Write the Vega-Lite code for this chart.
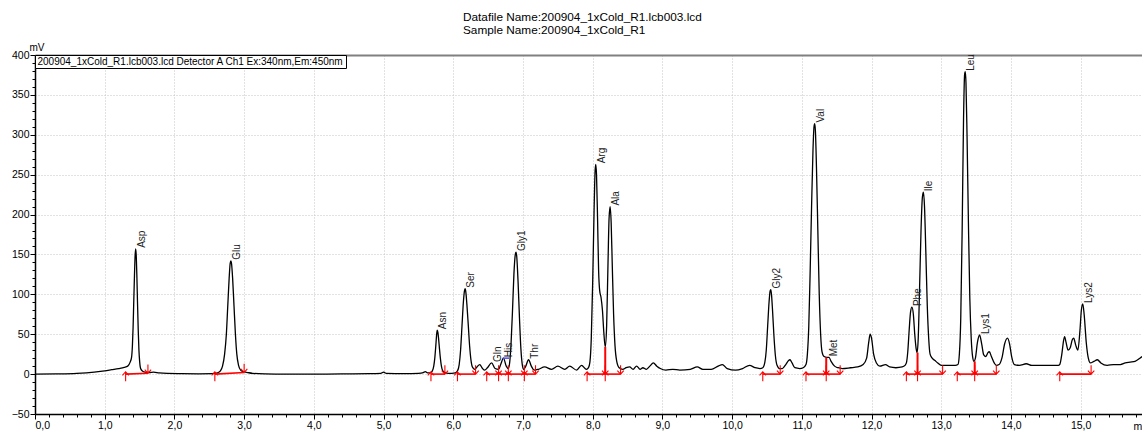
{
"$schema": "https://vega.github.io/schema/vega-lite/v6.json",
"width": 1107, "height": 359,
"autosize": {"type": "none"},
"padding": {"left": 35, "top": 55, "right": 0, "bottom": 17},
"background": "white",
"config": {"font": "Liberation Sans", "view": {"stroke": null},
  "axis": {"labelFont": "Liberation Sans", "titleFont": "Liberation Sans", "labelColor": "black", "titleColor": "black"},
  "legend": {"labelFont": "Liberation Sans"}},
"title": {"text": ["Datafile Name:200904_1xCold_R1.lcb003.lcd", "Sample Name:200904_1xCold_R1"], "anchor": "start", "frame": "group", "dx": 428, "offset": 5, "fontSize": 11.8, "fontWeight": "normal", "lineHeight": 13, "font": "Liberation Sans", "color": "black"},
"datasets": {
"trace": [
{"t":0,"mv":0},{"t":0.3,"mv":0.3},{"t":0.6,"mv":1},{"t":0.85,"mv":2.5},{"t":1.0,"mv":4},{"t":1.1,"mv":5.5},{"t":1.2,"mv":7},{"t":1.28,"mv":8.5},{"t":1.33,"mv":10},{"t":1.365,"mv":15},{"t":1.385,"mv":21},{"t":1.397,"mv":35},{"t":1.407,"mv":58},{"t":1.417,"mv":92},{"t":1.427,"mv":124},{"t":1.436,"mv":148},{"t":1.444,"mv":157},{"t":1.452,"mv":149},{"t":1.461,"mv":124},{"t":1.471,"mv":88},{"t":1.481,"mv":55},{"t":1.491,"mv":30},{"t":1.502,"mv":15},{"t":1.515,"mv":7},{"t":1.54,"mv":4},{"t":1.58,"mv":2.5},{"t":1.64,"mv":2},{"t":1.7,"mv":2.5},{"t":1.78,"mv":1.5},{"t":1.9,"mv":0.8},{"t":2.1,"mv":0.5},{"t":2.35,"mv":0.3},{"t":2.55,"mv":0.5},
{"t":2.62,"mv":1.5},{"t":2.66,"mv":4},{"t":2.69,"mv":10},{"t":2.72,"mv":25},{"t":2.745,"mv":50},{"t":2.765,"mv":85},{"t":2.785,"mv":120},{"t":2.8,"mv":139},{"t":2.81,"mv":142},{"t":2.82,"mv":138},{"t":2.835,"mv":120},{"t":2.855,"mv":85},{"t":2.875,"mv":50},{"t":2.895,"mv":25},{"t":2.92,"mv":11},{"t":2.95,"mv":5},{"t":2.99,"mv":3},{"t":3.05,"mv":2},{"t":3.12,"mv":1},{"t":3.3,"mv":0.3},{"t":3.6,"mv":0},{"t":4.0,"mv":0},{"t":4.4,"mv":0.3},{"t":4.8,"mv":0.5},{"t":4.96,"mv":1},{"t":5.0,"mv":2.5},{"t":5.04,"mv":0.8},{"t":5.3,"mv":0.5},{"t":5.5,"mv":1},{"t":5.57,"mv":2},{"t":5.6,"mv":3},{"t":5.63,"mv":1.5},{"t":5.67,"mv":1.5},
{"t":5.7,"mv":4},{"t":5.72,"mv":10},{"t":5.735,"mv":20},{"t":5.75,"mv":36},{"t":5.76,"mv":48},{"t":5.77,"mv":55},{"t":5.78,"mv":52},{"t":5.79,"mv":44},{"t":5.8,"mv":34},{"t":5.815,"mv":20},{"t":5.83,"mv":10},{"t":5.85,"mv":4},{"t":5.88,"mv":2},{"t":5.93,"mv":1},{"t":5.98,"mv":1},
{"t":6.03,"mv":1.5},{"t":6.06,"mv":4},{"t":6.085,"mv":12},{"t":6.105,"mv":30},{"t":6.125,"mv":60},{"t":6.145,"mv":90},{"t":6.16,"mv":104},{"t":6.17,"mv":107},{"t":6.18,"mv":103},{"t":6.195,"mv":88},{"t":6.215,"mv":62},{"t":6.235,"mv":35},{"t":6.255,"mv":17},{"t":6.28,"mv":8},{"t":6.31,"mv":6},{"t":6.34,"mv":9},{"t":6.38,"mv":12},{"t":6.42,"mv":7},{"t":6.45,"mv":5},{"t":6.49,"mv":8},{"t":6.55,"mv":14},{"t":6.6,"mv":7},{"t":6.65,"mv":6},{"t":6.68,"mv":12},{"t":6.72,"mv":20},{"t":6.76,"mv":10},{"t":6.79,"mv":7},
{"t":6.81,"mv":15},{"t":6.83,"mv":40},{"t":6.85,"mv":80},{"t":6.87,"mv":125},{"t":6.89,"mv":150},{"t":6.9,"mv":153},{"t":6.91,"mv":148},{"t":6.93,"mv":115},{"t":6.95,"mv":70},{"t":6.97,"mv":32},{"t":6.99,"mv":12},{"t":7.01,"mv":6},{"t":7.04,"mv":10},{"t":7.08,"mv":18},{"t":7.12,"mv":10},{"t":7.16,"mv":5},{"t":7.22,"mv":6},{"t":7.31,"mv":9},{"t":7.41,"mv":6},{"t":7.5,"mv":10},{"t":7.6,"mv":6},{"t":7.67,"mv":10},{"t":7.77,"mv":5},{"t":7.84,"mv":11},{"t":7.91,"mv":6},
{"t":7.94,"mv":8},{"t":7.96,"mv":15},{"t":7.98,"mv":45},{"t":8.0,"mv":115},{"t":8.02,"mv":205},{"t":8.035,"mv":255},{"t":8.045,"mv":263},{"t":8.055,"mv":250},{"t":8.07,"mv":195},{"t":8.085,"mv":130},{"t":8.1,"mv":105},{"t":8.12,"mv":96},{"t":8.14,"mv":80},{"t":8.16,"mv":52},{"t":8.18,"mv":34},{"t":8.2,"mv":60},{"t":8.22,"mv":140},{"t":8.235,"mv":195},{"t":8.25,"mv":210},{"t":8.265,"mv":190},{"t":8.28,"mv":140},{"t":8.3,"mv":75},{"t":8.32,"mv":36},{"t":8.345,"mv":16},{"t":8.38,"mv":8},{"t":8.43,"mv":6},{"t":8.48,"mv":8},{"t":8.53,"mv":9},{"t":8.58,"mv":6},{"t":8.63,"mv":10},{"t":8.68,"mv":6},{"t":8.72,"mv":8},{"t":8.77,"mv":6},{"t":8.82,"mv":10},{"t":8.87,"mv":14},{"t":8.92,"mv":10},{"t":8.97,"mv":7},{"t":9.05,"mv":5},{"t":9.15,"mv":6},{"t":9.25,"mv":5},{"t":9.4,"mv":6},{"t":9.5,"mv":9},{"t":9.58,"mv":6},{"t":9.7,"mv":6},{"t":9.8,"mv":10},{"t":9.86,"mv":12},{"t":9.93,"mv":7},{"t":10.05,"mv":5},{"t":10.15,"mv":7},{"t":10.25,"mv":11},{"t":10.33,"mv":8},{"t":10.4,"mv":7},
{"t":10.44,"mv":8},{"t":10.47,"mv":15},{"t":10.49,"mv":30},{"t":10.51,"mv":60},{"t":10.53,"mv":90},{"t":10.545,"mv":104},{"t":10.555,"mv":106},{"t":10.565,"mv":100},{"t":10.58,"mv":80},{"t":10.6,"mv":48},{"t":10.62,"mv":24},{"t":10.645,"mv":11},{"t":10.68,"mv":7},{"t":10.72,"mv":7},{"t":10.77,"mv":12},{"t":10.81,"mv":17},{"t":10.83,"mv":18},{"t":10.86,"mv":14},{"t":10.9,"mv":8},{"t":10.97,"mv":7},{"t":11.02,"mv":8},
{"t":11.06,"mv":12},{"t":11.08,"mv":25},{"t":11.1,"mv":60},{"t":11.12,"mv":130},{"t":11.14,"mv":210},{"t":11.16,"mv":280},{"t":11.175,"mv":310},{"t":11.185,"mv":314},{"t":11.195,"mv":305},{"t":11.21,"mv":260},{"t":11.23,"mv":180},{"t":11.25,"mv":100},{"t":11.27,"mv":50},{"t":11.29,"mv":28},{"t":11.32,"mv":22},{"t":11.36,"mv":21},{"t":11.39,"mv":21},{"t":11.42,"mv":16},{"t":11.47,"mv":10},{"t":11.52,"mv":8},{"t":11.58,"mv":7},{"t":11.7,"mv":8},{"t":11.8,"mv":9},{"t":11.88,"mv":12},{"t":11.93,"mv":20},{"t":11.96,"mv":40},{"t":11.98,"mv":50},{"t":12.0,"mv":45},{"t":12.03,"mv":25},{"t":12.07,"mv":14},{"t":12.12,"mv":10},{"t":12.2,"mv":12},{"t":12.26,"mv":9},{"t":12.35,"mv":8},{"t":12.44,"mv":9},
{"t":12.48,"mv":11},{"t":12.5,"mv":14},{"t":12.52,"mv":28},{"t":12.54,"mv":55},{"t":12.56,"mv":78},{"t":12.58,"mv":84},{"t":12.6,"mv":75},{"t":12.62,"mv":50},{"t":12.64,"mv":32},{"t":12.655,"mv":27},{"t":12.67,"mv":45},{"t":12.69,"mv":110},{"t":12.71,"mv":180},{"t":12.73,"mv":222},{"t":12.745,"mv":228},{"t":12.76,"mv":210},{"t":12.78,"mv":150},{"t":12.8,"mv":85},{"t":12.82,"mv":45},{"t":12.84,"mv":25},{"t":12.87,"mv":20},{"t":12.91,"mv":17},{"t":12.95,"mv":14},{"t":13.0,"mv":11},{"t":13.1,"mv":11},{"t":13.2,"mv":11},
{"t":13.24,"mv":12},{"t":13.26,"mv":25},{"t":13.28,"mv":70},{"t":13.3,"mv":180},{"t":13.32,"mv":320},{"t":13.335,"mv":375},{"t":13.345,"mv":379},{"t":13.355,"mv":365},{"t":13.37,"mv":300},{"t":13.39,"mv":190},{"t":13.41,"mv":95},{"t":13.43,"mv":45},{"t":13.45,"mv":22},{"t":13.47,"mv":16},{"t":13.49,"mv":20},{"t":13.52,"mv":40},{"t":13.55,"mv":49},{"t":13.58,"mv":38},{"t":13.61,"mv":24},{"t":13.64,"mv":22},{"t":13.67,"mv":27},{"t":13.69,"mv":28},{"t":13.72,"mv":22},{"t":13.76,"mv":14},{"t":13.79,"mv":11},{"t":13.83,"mv":12},{"t":13.87,"mv":20},{"t":13.91,"mv":38},{"t":13.95,"mv":45},{"t":13.98,"mv":38},{"t":14.01,"mv":22},{"t":14.05,"mv":12},{"t":14.12,"mv":11},{"t":14.22,"mv":13},{"t":14.3,"mv":11},{"t":14.4,"mv":11},{"t":14.5,"mv":11},{"t":14.6,"mv":11},{"t":14.68,"mv":11},
{"t":14.7,"mv":12},{"t":14.73,"mv":25},{"t":14.755,"mv":42},{"t":14.77,"mv":47},{"t":14.79,"mv":40},{"t":14.82,"mv":30},{"t":14.85,"mv":33},{"t":14.88,"mv":43},{"t":14.9,"mv":45},{"t":14.93,"mv":36},{"t":14.96,"mv":30},{"t":14.99,"mv":55},{"t":15.01,"mv":80},{"t":15.03,"mv":88},{"t":15.05,"mv":75},{"t":15.08,"mv":40},{"t":15.11,"mv":20},{"t":15.14,"mv":14},{"t":15.19,"mv":16},{"t":15.24,"mv":18},{"t":15.29,"mv":14},{"t":15.38,"mv":11},{"t":15.47,"mv":12},{"t":15.57,"mv":12},{"t":15.64,"mv":14},{"t":15.71,"mv":15},{"t":15.78,"mv":16},{"t":15.85,"mv":20},{"t":15.88,"mv":22}
],
"segments": [
{"t1":1.30,"t2":1.62,"y1":0,"y2":1},{"t1":2.58,"t2":3.00,"y1":0,"y2":2},{"t1":5.68,"t2":5.88,"y1":0,"y2":0},{"t1":6.06,"t2":6.32,"y1":0,"y2":0},
{"t1":6.48,"t2":6.65,"y1":0,"y2":0},{"t1":6.65,"t2":6.79,"y1":0,"y2":0},{"t1":6.79,"t2":7.02,"y1":0,"y2":0},{"t1":7.02,"t2":7.18,"y1":0,"y2":0},
{"t1":7.92,"t2":8.18,"y1":0,"y2":0},{"t1":8.18,"t2":8.40,"y1":0,"y2":0},{"t1":10.44,"t2":10.69,"y1":0,"y2":0},
{"t1":11.06,"t2":11.35,"y1":0,"y2":0},{"t1":11.35,"t2":11.55,"y1":0,"y2":0},{"t1":12.50,"t2":12.66,"y1":0,"y2":0},{"t1":12.66,"t2":13.02,"y1":0,"y2":0},
{"t1":13.23,"t2":13.48,"y1":0,"y2":0},{"t1":13.48,"t2":13.79,"y1":0,"y2":0},{"t1":14.70,"t2":15.15,"y1":0,"y2":0}
],
"drops": [{"t":8.18,"base":0,"top":34},{"t":11.35,"base":0,"top":21},{"t":12.66,"base":0,"top":27},{"t":13.48,"base":0,"top":16}],
"peaks": [
{"name":"Asp","t":1.444,"mv":157},{"name":"Glu","t":2.81,"mv":142},{"name":"Asn","t":5.77,"mv":55},{"name":"Ser","t":6.17,"mv":107},
{"name":"Gln","t":6.55,"mv":14},{"name":"His","t":6.72,"mv":20},{"name":"Gly1","t":6.9,"mv":153},{"name":"Thr","t":7.08,"mv":18},
{"name":"Arg","t":8.045,"mv":263},{"name":"Ala","t":8.25,"mv":210},{"name":"Gly2","t":10.555,"mv":106},{"name":"Val","t":11.185,"mv":314},
{"name":"Met","t":11.38,"mv":21},{"name":"Phe","t":12.58,"mv":84},{"name":"Ile","t":12.745,"mv":228},{"name":"Leu","t":13.345,"mv":379},
{"name":"Lys1","t":13.55,"mv":49},{"name":"Lys2","t":15.03,"mv":88}
],
"blue": [{"t1":6.71,"t2":6.80,"mv":20}]
},
"layer": [
{"data": {"name": "trace"},
 "mark": {"type": "line", "interpolate": "monotone", "strokeWidth": 1.3},
 "encoding": {
  "x": {"field": "t", "type": "quantitative", "scale": {"domain": [0, 15.88], "nice": false, "zero": false},
    "axis": {"orient": "bottom", "values": [0,1,2,3,4,5,6,7,8,9,10,11,12,13,14,15], "labelExpr": "replace(format(datum.value, '.1f'), '.', ',')",
      "grid": true, "gridColor": "#c4c4c4", "gridDash": [1,2], "tickSize": 5, "tickColor": "black", "domainColor": "black", "domainWidth": 1.5,
      "labelFontSize": 10.5, "labelPadding": 1, "title": "min", "titleX": 1098, "titleY": 7, "titleAlign": "left", "titleBaseline": "top", "titleFontSize": 10.5, "titleFontWeight": "normal"}},
  "y": {"field": "mv", "type": "quantitative", "scale": {"domain": [-50, 400], "nice": false, "zero": false},
    "axis": {"orient": "left", "values": [-50,0,50,100,150,200,250,300,350,400],
      "grid": true, "gridColor": {"condition": {"test": "datum.value === 400", "value": "#808080"}, "value": "#c4c4c4"},
      "gridDash": {"condition": {"test": "datum.value === 400", "value": []}, "value": [1,2]},
      "gridWidth": {"condition": {"test": "datum.value === 400", "value": 2}, "value": 1},
      "tickSize": 5, "tickColor": "black", "domainColor": "black", "domainWidth": 1.5, "labelFontSize": 10.5, "labelPadding": 1,
      "title": "mV", "titleAngle": 0, "titleX": -6, "titleY": -3, "titleAlign": "left", "titleBaseline": "bottom", "titleFontSize": 10, "titleFontWeight": "normal"}},
  "color": {"datum": "200904_1xCold_R1.lcb003.lcd Detector A Ch1 Ex:340nm,Em:450nm", "type": "nominal", "scale": {"range": ["black"]},
    "legend": {"orient": "top-left", "title": null, "offset": 0, "padding": 1.5, "strokeColor": "black", "fillColor": "white",
      "symbolSize": 0, "symbolStrokeWidth": 0, "labelOffset": -9, "labelFontSize": 10, "labelColor": "black", "labelLimit": 0}}
 }},
{"data": {"name": "segments"},
 "mark": {"type": "rule", "color": "#ff0000", "strokeWidth": 1.6},
 "encoding": {"x": {"field": "t1", "type": "quantitative", "axis": null}, "x2": {"field": "t2"},
   "y": {"field": "y1", "type": "quantitative", "axis": null}, "y2": {"field": "y2"}}},
{"data": {"name": "drops"},
 "mark": {"type": "rule", "color": "#ff0000", "strokeWidth": 2},
 "encoding": {"x": {"field": "t", "type": "quantitative", "axis": null},
   "y": {"field": "base", "type": "quantitative", "axis": null}, "y2": {"field": "top"}}},
{"data": {"name": "segments"},
 "mark": {"type": "point", "shape": "M0,-0.6L0,1.8M-0.8,0.3L0,-0.6L0.8,0.3", "size": 64, "filled": false, "color": "#ff0000", "strokeWidth": 1.1, "opacity": 1},
 "encoding": {"x": {"field": "t1", "type": "quantitative", "axis": null}, "y": {"field": "y1", "type": "quantitative", "axis": null}}},
{"data": {"name": "segments"},
 "mark": {"type": "point", "shape": "M0,0L0,-2.2M-0.8,-0.9L0,0L0.8,-0.9", "size": 64, "filled": false, "color": "#ff0000", "strokeWidth": 1.1, "opacity": 1},
 "encoding": {"x": {"field": "t2", "type": "quantitative", "axis": null}, "y": {"field": "y2", "type": "quantitative", "axis": null}}},
{"data": {"name": "blue"},
 "mark": {"type": "rule", "color": "#4a4aff", "strokeWidth": 1.5},
 "encoding": {"x": {"field": "t1", "type": "quantitative", "axis": null}, "x2": {"field": "t2"},
   "y": {"field": "mv", "type": "quantitative", "axis": null}}},
{"data": {"name": "peaks"},
 "mark": {"type": "text", "angle": 270, "align": "left", "baseline": "top", "dx": 1, "dy": 1, "fontSize": 10, "color": "#222222", "font": "Liberation Sans"},
 "encoding": {"text": {"field": "name"},
   "x": {"field": "t", "type": "quantitative",
     "axis": {"orient": "bottom", "values": [0.2,0.4,0.6,0.8,1.2,1.4,1.6,1.8,2.2,2.4,2.6,2.8,3.2,3.4,3.6,3.8,4.2,4.4,4.6,4.8,5.2,5.4,5.6,5.8,6.2,6.4,6.6,6.8,7.2,7.4,7.6,7.8,8.2,8.4,8.6,8.8,9.2,9.4,9.6,9.8,10.2,10.4,10.6,10.8,11.2,11.4,11.6,11.8,12.2,12.4,12.6,12.8,13.2,13.4,13.6,13.8,14.2,14.4,14.6,14.8,15.2,15.4,15.6,15.8],
       "labels": false, "grid": false, "domain": false, "tickSize": 3, "tickColor": "black", "title": null}},
   "y": {"field": "mv", "type": "quantitative",
     "axis": {"orient": "left", "values": [-40,-30,-20,-10,10,20,30,40,60,70,80,90,110,120,130,140,160,170,180,190,210,220,230,240,260,270,280,290,310,320,330,340,360,370,380,390],
       "labels": false, "grid": false, "domain": false, "tickSize": 3, "tickColor": "black", "title": null}}}}
],
"resolve": {"scale": {"x": "shared", "y": "shared"}, "axis": {"x": "independent", "y": "independent"}}
}
